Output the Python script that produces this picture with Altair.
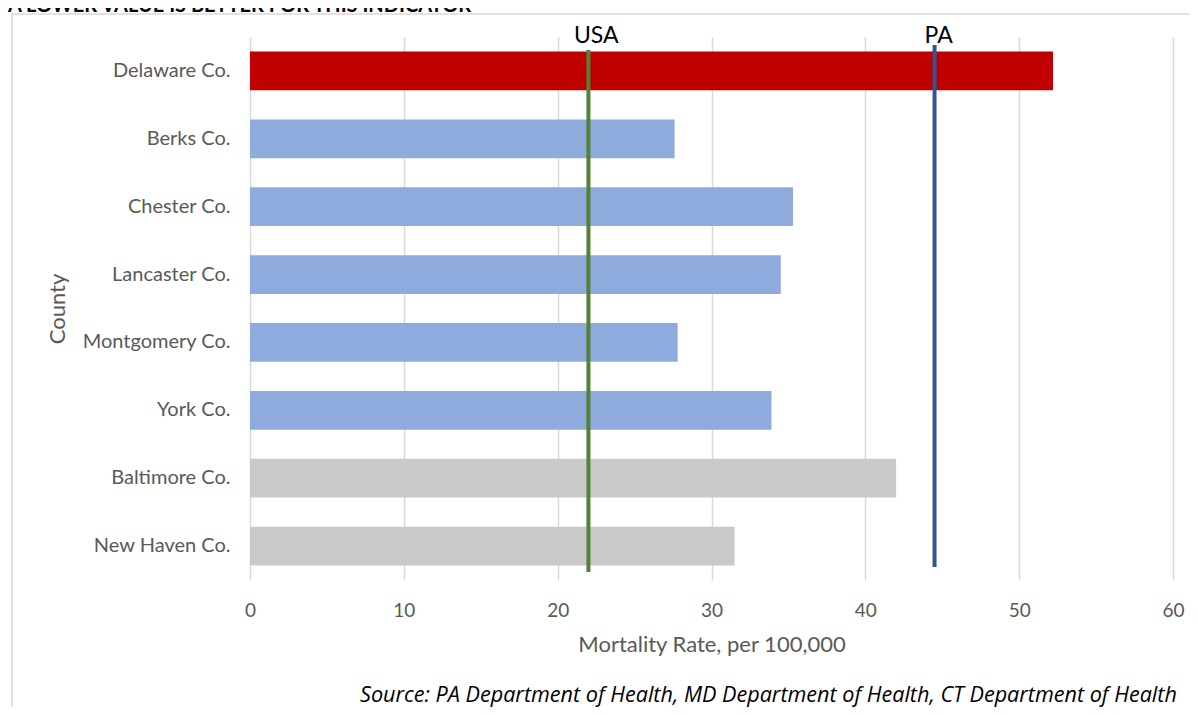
import altair as alt
import pandas as pd

counties = ["Delaware Co.", "Berks Co.", "Chester Co.", "Lancaster Co.",
            "Montgomery Co.", "York Co.", "Baltimore Co.", "New Haven Co."]
rates = [52.2, 27.6, 35.3, 34.5, 27.8, 33.9, 42.0, 31.5]
groups = ["Delaware", "PA peer", "PA peer", "PA peer", "PA peer", "PA peer", "Other", "Other"]
group_names = ["Delaware", "PA peer", "Other"]
group_colors = ["#C00000", "#8FAADC", "#C9C9C9"]

ref_names = ["USA", "PA"]
ref_values = [22.0, 44.5]
ref_colors = ["#548235", "#2F5597"]

x_ticks = [0, 10, 20, 30, 40, 50, 60]
title_text = "A LOWER VALUE IS BETTER FOR THIS INDICATOR"
source_text = "Source: PA Department of Health, MD Department of Health, CT Department of Health"
x_title = "Mortality Rate, per 100,000"
y_title = "County"

FONT = "Lato"
W, H = 923, 543
PL, PT = 242, 29

df = pd.DataFrame({"county": counties, "rate": rates, "group": groups})

x_enc = alt.X(
    "rate:Q",
    scale=alt.Scale(domain=[0, 60], nice=False),
    axis=alt.Axis(
        values=x_ticks, grid=True, gridColor="#d9d9d9", gridWidth=1.5,
        domain=False, ticks=False, tickSize=0, labelPadding=30, labelFlush=False,
        labelBaseline="middle", labelFontSize=19, labelColor="#595959",
        labelFont=FONT, title=x_title, titleFont=FONT, titleFontSize=22,
        titleFontWeight="normal", titleColor="#595959",
        titleY=64, titleBaseline="middle", titleAlign="center",
    ),
)

one = pd.DataFrame({"k": [0]})

frame = alt.Chart(one).mark_rect(filled=False, stroke="#d9d9d9", strokeWidth=1.5).encode(
    x=alt.value(-238), x2=alt.value(1100), y=alt.value(-23), y2=alt.value(800)
)

bars = alt.Chart(df).mark_bar().encode(
    y=alt.Y(
        "county:N", sort=counties,
        scale=alt.Scale(paddingInner=0.43, paddingOuter=0.215),
        axis=alt.Axis(
            grid=False, domain=False, ticks=False, tickSize=0, labelPadding=20,
            labelFontSize=20, labelColor="#595959", labelFont=FONT,
            title=y_title, titleFont=FONT, titleFontSize=22, titleFontWeight="normal",
            titleColor="#595959", titleX=-192.5, titleY=H / 2,
            titleBaseline="middle", titleAlign="center", titleAngle=270,
        ),
    ),
    x=x_enc,
    color=alt.Color("group:N", scale=alt.Scale(domain=group_names, range=group_colors), legend=None),
)

layers = [frame, bars]
rule_y = [(13, 535), (8, 530)]
label_dx = [-14.5, -10]
for i in range(len(ref_names)):
    d = pd.DataFrame({"name": [ref_names[i]], "rate": [ref_values[i]]})
    layers.append(
        alt.Chart(d).mark_rule(color=ref_colors[i], strokeWidth=4).encode(
            x=x_enc, y=alt.value(rule_y[i][0]), y2=alt.value(rule_y[i][1])
        )
    )
    layers.append(
        alt.Chart(d).mark_text(align="left", baseline="alphabetic", dx=label_dx[i],
                               fontSize=23, font=FONT, color="black").encode(
            x=x_enc, y=alt.value(6), text="name:N"
        )
    )

tdf = pd.DataFrame({"t": [title_text]})
title = alt.Chart(tdf).mark_text(align="left", baseline="alphabetic", fontSize=20,
                                 fontWeight="bold", font=FONT, color="black").encode(
    x=alt.value(-PL), y=alt.value(-25), text="t:N"
)
sdf = pd.DataFrame({"s": [source_text]})
source = alt.Chart(sdf).mark_text(align="left", baseline="alphabetic", fontSize=21.6,
                                  fontStyle="italic", font="Open Sans", color="black").encode(
    x=alt.value(110), y=alt.value(665), text="s:N"
)
layers += [title, source]

chart = alt.layer(*layers).properties(
    width=W, height=H,
    autosize=alt.AutoSizeParams(type="none"),
    padding={"left": PL, "top": PT, "right": 17, "bottom": 127},
).configure_view(stroke=None)

chart.save("out.html", embed_options={"renderer": "svg", "actions": False})
